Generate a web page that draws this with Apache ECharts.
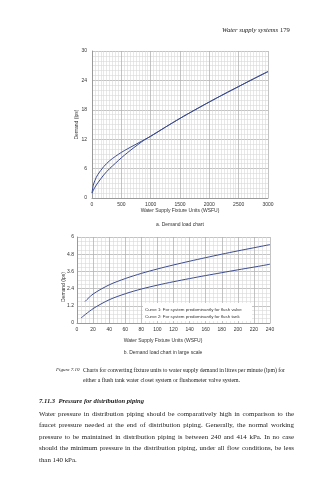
<!DOCTYPE html>
<html><head><meta charset="utf-8">
<script src="https://cdn.jsdelivr.net/npm/echarts@6/dist/echarts.min.js"></script>
<style>html,body{margin:0;padding:0;background:#fff}#c{width:334px;height:480px}</style>
</head><body><div id="c"></div>
<script>
// ---- Chart a: Demand load chart ----
const wsfuA  = [0,20,50,100,200,300,400,500,600,700,800,900,1000,1250,1500,1750,2000,2250,2500,2750,3000];
const valveA = [1.0,2.5,3.6,4.8,6.4,7.6,8.5,9.3,10.0,10.65,11.3,11.95,12.6,14.45,16.25,17.95,19.6,21.2,22.75,24.3,25.8];
const tankA  = [1.0,1.5,2.2,3.1,4.7,6.0,7.1,8.2,9.2,10.15,11.05,11.9,12.6,14.45,16.25,17.95,19.6,21.2,22.75,24.3,25.8];
const xTicksA = [0,500,1000,1500,2000,2500,3000];
const yTicksA = [0,6,12,18,24,30];
// ---- Chart b: large scale ----
const wsfuB1 = [10,20,40,60,80,100,120,140,160,180,200,220,240];
const valveB = [1.5,2.02,2.66,3.1,3.46,3.77,4.05,4.31,4.56,4.8,5.03,5.25,5.47];
const wsfuB2 = [5,20,40,60,80,100,120,140,160,180,200,220,240];
const tankB  = [0.35,1.0,1.62,2.04,2.37,2.64,2.88,3.1,3.31,3.51,3.71,3.9,4.1];
const xTicksB = [0,20,40,60,80,100,120,140,160,180,200,220,240];
const yTicksB = [0,1.2,2.4,3.6,4.8,6];

const SANS = '"Liberation Sans", Arial, sans-serif';
const SERIF = '"Liberation Serif", "Times New Roman", serif';
const lineColor = '#3c4c8e';

function pairs(xs, ys){ return xs.map((x,i)=>[x, ys[i]]); }
function fmt(v){ return String(Math.round(v*10)/10); }
function axisX(ticks, minor, gi){
  return {type:'value', gridIndex:gi, min:ticks[0], max:ticks[ticks.length-1], interval:ticks[1]-ticks[0],
    axisLine:{show:true,lineStyle:{color:'#999',width:1}}, axisTick:{show:false},
    axisLabel:{fontSize:5, color:'#333', fontFamily:SANS, margin:4, formatter:fmt},
    splitLine:{show:true,lineStyle:{color:'#b4b4b4',width:0.8}},
    minorTick:{show:false, splitNumber:minor},
    minorSplitLine:{show:true,lineStyle:{color:'#d8d8d8',width:0.6}}};
}
function axisY(ticks, minor, gi, margin){
  return {type:'value', gridIndex:gi, min:ticks[0], max:ticks[ticks.length-1], interval:ticks[1]-ticks[0],
    axisLine:{show:true,lineStyle:{color:'#999',width:1}}, axisTick:{show:false},
    axisLabel:{fontSize:5, color:'#333', fontFamily:SANS, margin:margin, formatter:fmt},
    splitLine:{show:true,lineStyle:{color:'#b4b4b4',width:0.8}},
    minorTick:{show:false, splitNumber:minor},
    minorSplitLine:{show:true,lineStyle:{color:'#d8d8d8',width:0.6}}};
}
function series(xs, ys, gi){
  return {type:'line', xAxisIndex:gi, yAxisIndex:gi, data:pairs(xs,ys), showSymbol:false, symbol:'none',
    smooth:0.3, lineStyle:{color:lineColor,width:1}, silent:true};
}

// text measuring for justified lines
const mctx = document.createElement('canvas').getContext('2d');
function measure(t, font){ mctx.font = font; return mctx.measureText(t).width; }
function txt(x,y,t,size,opts){
  opts = opts||{};
  return {type:'text', x:x, y:y, silent:true, rotation:opts.rotation||0,
    style:{text:t, fontSize:size, fontFamily:opts.family||SERIF, fontStyle:opts.italic?'italic':'normal',
      fontWeight:opts.bold?'bold':'normal', fill:opts.color||'#1a1a1a', align:opts.align||'left', verticalAlign:'middle'}};
}
function justify(t, x0, x1, y, size, opts){
  opts = opts||{};
  const font = (opts.italic?'italic ':'') + (opts.bold?'bold ':'') + size + 'px ' + (opts.family||SERIF);
  const words = t.split(' ');
  const widths = words.map(w=>measure(w,font));
  const total = widths.reduce((a,b)=>a+b,0);
  const gap = words.length>1 ? (x1-x0-total)/(words.length-1) : 0;
  let x = x0; const out = [];
  words.forEach((w,i)=>{ out.push(txt(x,y,w,size,opts)); x += widths[i]+gap; });
  return out;
}

const graphics = [];
// header
graphics.push(txt(222,30,'Water supply systems',6.6,{italic:true}));
graphics.push(txt(280,30,'179',6.6,{}));
// chart a texts
graphics.push(txt(77,124.5,'Demand (lps)',5,{family:SANS,rotation:Math.PI/2,align:'center',color:'#333'}));
graphics.push(txt(180,211,'Water Supply Fixture Units (WSFU)',5,{family:SANS,align:'center',color:'#333'}));
graphics.push(txt(180,225,'a. Demand load chart',5,{family:SANS,align:'center',color:'#333'}));
// chart b texts
graphics.push(txt(64,287,'Demand (lps)',5,{family:SANS,rotation:Math.PI/2,align:'center',color:'#333'}));
graphics.push(txt(163,341,'Water Supply Fixture Units (WSFU)',5,{family:SANS,align:'center',color:'#333'}));
graphics.push(txt(163,353,'b. Demand load chart in large scale',5,{family:SANS,align:'center',color:'#333'}));
// legend note box
graphics.push({type:'rect', shape:{x:143,y:303,width:109,height:18}, style:{fill:'#fff'}, silent:true, z:50});
graphics.push(Object.assign(txt(145,309.5,'Curve 1: For system predominantly for flush valve',4.4,{family:SANS,color:'#333'}),{z:51}));
graphics.push(Object.assign(txt(145,316.5,'Curve 2: For system predominantly for flush tank',4.4,{family:SANS,color:'#333'}),{z:51}));
// caption
graphics.push(txt(56,370,'Figure 7.10',5.0,{italic:true}));
justify('Charts for converting fixture units to water supply demand in litres per minute (lpm) for',83,285,370,5.8).forEach(g=>graphics.push(g));
graphics.push(txt(83,380,'either a flush tank water closet system or flushometer valve system.',5.8,{}));
// section heading
graphics.push(txt(39,401,'7.11.3  Pressure for distribution piping',6.6,{italic:true,bold:true}));
// paragraph
const para = [
  'Water pressure in distribution piping should be comparatively high in comparison to the',
  'faucet pressure needed at the end of distribution piping. Generally, the normal working',
  'pressure to be maintained in distribution piping is between 240 and 414 kPa. In no case',
  'should the minimum pressure in the distribution piping, under all flow conditions, be less'
];
const py = [414, 425.5, 437, 448.5];
para.forEach((l,i)=>justify(l,39,294,py[i],6.9).forEach(g=>graphics.push(g)));
graphics.push(txt(39,460,'than 140 kPa.',6.9,{}));

const chart = echarts.init(document.getElementById('c'), null, {renderer:'canvas'});
chart.setOption({
  animation:false,
  backgroundColor:'#fff',
  grid:[
    {left:92, top:51, width:176, height:147},
    {left:77, top:237, width:193, height:86}
  ],
  xAxis:[axisX(xTicksA,10,0), axisX(xTicksB,4,1)],
  yAxis:[axisY(yTicksA,6,0,5), axisY(yTicksB,4,1,3)],
  series:[
    series(wsfuA, valveA, 0), series(wsfuA, tankA, 0),
    series(wsfuB1, valveB, 1), series(wsfuB2, tankB, 1)
  ],
  graphic:graphics
});
</script></body></html>
